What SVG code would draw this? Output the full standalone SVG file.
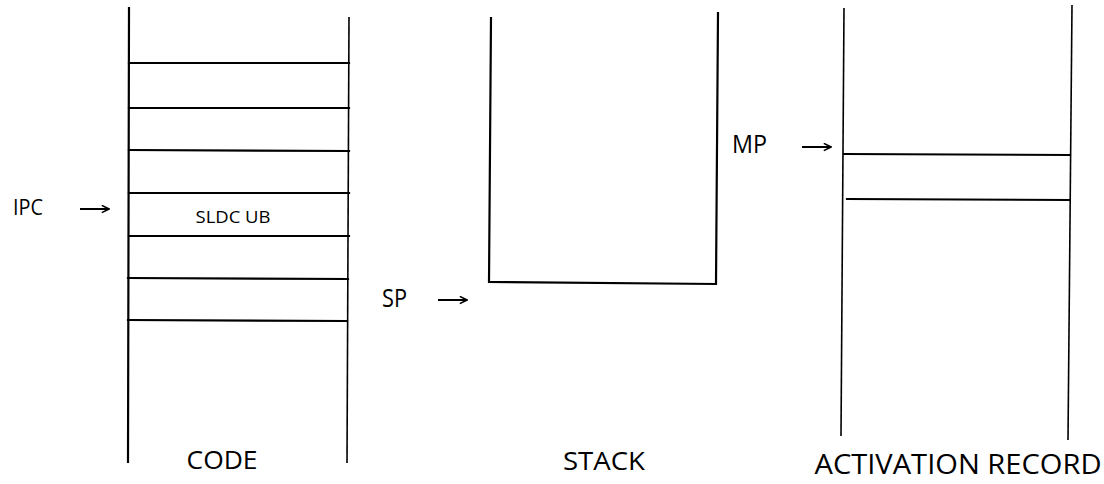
<svg xmlns="http://www.w3.org/2000/svg" width="1104" height="484" viewBox="0 0 1104 484">
<style>
.ln{stroke:#000;stroke-width:2.2;fill:none;stroke-linecap:square}
.thin{stroke:#000;stroke-width:1.6;fill:none}
.arr{stroke:#000;stroke-width:2;fill:none}
.t{font-family:"Open Sans","Liberation Sans",sans-serif;fill:#000}
</style>
<defs>
<marker id="ah" viewBox="0 0 10 10" refX="9" refY="5" markerWidth="9" markerHeight="9" markerUnits="userSpaceOnUse" orient="auto">
<path d="M1,1 L9,5 L1,9" fill="none" stroke="#000" stroke-width="1.8"/>
</marker>
</defs>
<rect width="1104" height="484" fill="#fff"/>
<g id="code">
<line class="ln" x1="129" y1="8" x2="128" y2="462"/>
<line class="thin" x1="349" y1="17" x2="347" y2="463"/>
<line class="ln" x1="129" y1="63" x2="349" y2="63"/>
<line class="ln" x1="129" y1="108" x2="349" y2="108"/>
<line class="ln" x1="129" y1="150" x2="349" y2="151"/>
<line class="ln" x1="129" y1="193" x2="349" y2="193"/>
<line class="ln" x1="129" y1="236" x2="349" y2="236"/>
<line class="ln" x1="128" y1="278" x2="348" y2="279"/>
<line class="ln" x1="128" y1="320" x2="347" y2="321"/>
<text class="t" x="233" y="223" font-size="17" text-anchor="middle" textLength="75" lengthAdjust="spacingAndGlyphs">SLDC UB</text>
<text class="t" x="222" y="469" font-size="26" text-anchor="middle" textLength="71" lengthAdjust="spacingAndGlyphs">CODE</text>
</g>
<g id="stack">
<path class="ln" d="M491,18 L489,282 L716,284 L718,13"/>
<text class="t" x="604" y="470" font-size="26" text-anchor="middle" textLength="82" lengthAdjust="spacingAndGlyphs">STACK</text>
</g>
<g id="activation-record">
<line class="thin" x1="844" y1="8" x2="841" y2="436"/>
<line class="thin" x1="1072" y1="5" x2="1068" y2="440"/>
<line class="ln" x1="844" y1="154" x2="1069" y2="155"/>
<line class="ln" x1="847" y1="199" x2="1069" y2="200"/>
<text class="t" x="958" y="474" font-size="28" text-anchor="middle" textLength="287" lengthAdjust="spacingAndGlyphs">ACTIVATION RECORD</text>
</g>
<g id="pointers">
<g id="ipc">
<text class="t" x="13" y="215" font-size="22" textLength="30" lengthAdjust="spacingAndGlyphs">IPC</text>
</g>
<g id="sp">
<text class="t" x="382" y="307" font-size="25" textLength="25" lengthAdjust="spacingAndGlyphs">SP</text>
</g>
<g id="mp">
<text class="t" x="732" y="153" font-size="25" textLength="35" lengthAdjust="spacingAndGlyphs">MP</text>
</g>
</g>
<g id="connectors">
<line class="arr" x1="80" y1="209" x2="109" y2="209" marker-end="url(#ah)"/>
<line class="arr" x1="438" y1="300" x2="467" y2="300" marker-end="url(#ah)"/>
<line class="arr" x1="802" y1="147" x2="831" y2="147" marker-end="url(#ah)"/>
</g>
</svg>
